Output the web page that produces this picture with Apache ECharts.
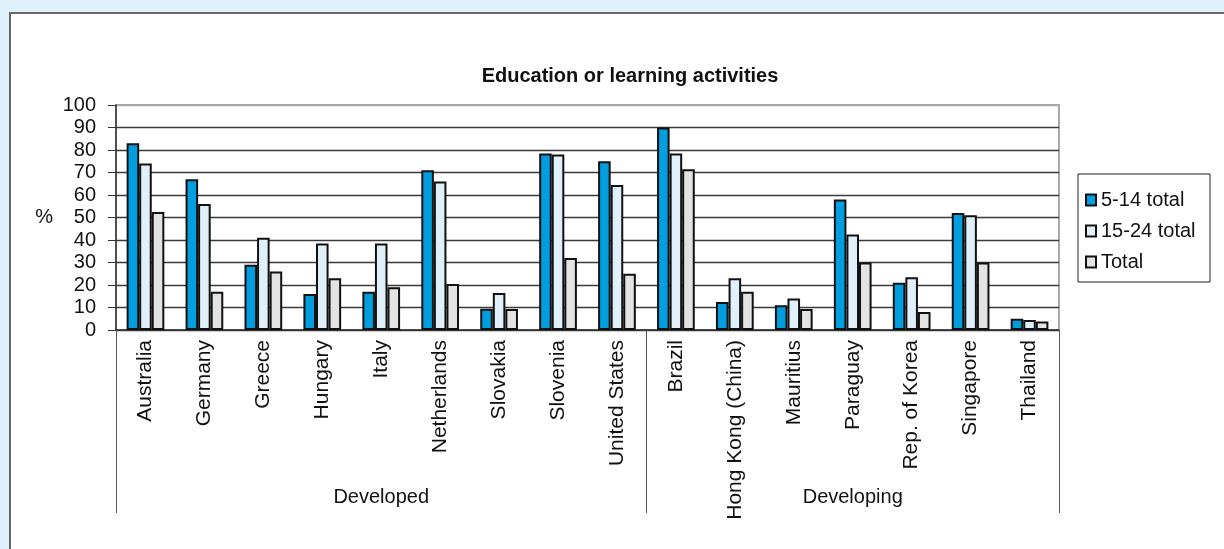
<!DOCTYPE html>
<html>
<head>
<meta charset="utf-8">
<title>Education or learning activities</title>
<script src="https://cdn.jsdelivr.net/npm/echarts@6/dist/echarts.min.js"></script>
<style>
  html, body { margin: 0; padding: 0; background: #dff0fa; }
  .panel {
    position: absolute; left: 9px; top: 12px; width: 1215px; height: 537px;
    background: #fff; border-top: 2px solid #666; border-left: 2px solid #666;
    box-sizing: border-box;
  }
  .chart { position: absolute; left: 0; top: 0; width: 1224px; height: 549px; }
</style>
</head>
<body>
<div class="panel"></div>
<div class="chart" id="chart"></div>
<script>
// 国家 / 分组
const countries = ['Australia', 'Germany', 'Greece', 'Hungary', 'Italy', 'Netherlands', 'Slovakia', 'Slovenia', 'United States',
  'Brazil', 'Hong Kong (China)', 'Mauritius', 'Paraguay', 'Rep. of Korea', 'Singapore', 'Thailand'];
const groupNames = ['Developed', 'Developing'];
const groupSizes = [9, 7];

// 数值 (%)
const age5to14 = [83, 67, 29, 16, 17, 71, 9.5, 78.5, 75, 90, 12.5, 11, 58, 21, 52, 5];
const age15to24 = [74, 56, 41, 38.5, 38.5, 66, 16.5, 78, 64.5, 78.5, 23, 14, 42.5, 23.5, 51, 4.5];
const totalAll = [52.5, 17, 26, 23, 19, 20.5, 9.3, 32, 25, 71.5, 17, 9.3, 30, 8, 30, 3.8];

const yTicks = [0, 10, 20, 30, 40, 50, 60, 70, 80, 90, 100];

// 分组边界与标签位置
let groupBounds = [0];
groupSizes.forEach((n, i) => groupBounds.push(groupBounds[i] + n));
let groupMids = groupSizes.map((n, i) => groupBounds[i] + n / 2);

const font = 'Liberation Sans, Arial, sans-serif';
const barBorder = { borderColor: '#111', borderWidth: 2 };

let chart = echarts.init(document.getElementById('chart'));

// 最上面一条(100)是浅灰色，与边框一致
let gridColors = yTicks.map((t, i) => (i === yTicks.length - 1 ? '#a8a8a8' : '#3a3a3a'));

let option = {
  backgroundColor: 'transparent',
  animation: false,
  textStyle: { fontFamily: font, color: '#111' },
  title: {
    text: 'Education or learning activities',
    left: 625,
    top: 61,
    textAlign: 'center',
    textStyle: { fontFamily: font, fontSize: 20, fontWeight: 'bold', color: '#111' }
  },
  legend: {
    orient: 'vertical',
    left: 1078,
    top: 174,
    padding: [16, 5, 10, 7],
    itemGap: 11,
    itemWidth: 10,
    itemHeight: 11,
    icon: 'rect',
    borderColor: '#222',
    borderWidth: 1,
    textStyle: { fontFamily: font, fontSize: 20, color: '#111', lineHeight: 20, width: 104 }
  },
  grid: {
    left: 116,
    right: 165,
    top: 105,
    bottom: 219,
    show: true,
    borderColor: '#a8a8a8',
    borderWidth: 2,
    backgroundColor: 'transparent'
  },
  xAxis: [
    {
      type: 'category',
      data: countries,
      axisLine: { lineStyle: { color: '#333', width: 1.5 } },
      axisTick: { show: false },
      axisLabel: { rotate: 90, margin: 10, fontSize: 21, fontFamily: font, color: '#111', interval: 0 }
    },
    {
      type: 'value',
      position: 'bottom',
      min: 0,
      max: countries.length,
      axisLine: { show: false },
      splitLine: { show: false },
      axisTick: { show: true, length: 183, customValues: groupBounds, lineStyle: { color: '#555', width: 1 } },
      axisLabel: {
        customValues: groupMids,
        margin: 157,
        fontSize: 20,
        fontFamily: font,
        color: '#111',
        formatter: (v) => groupNames[groupMids.indexOf(v)] || ''
      }
    }
  ],
  yAxis: {
    type: 'value',
    min: 0,
    max: 100,
    interval: 10,
    name: '%',
    nameLocation: 'middle',
    nameRotate: 0,
    nameGap: 63,
    nameTextStyle: { fontFamily: font, fontSize: 20, color: '#111' },
    axisLine: { show: true, lineStyle: { color: '#333', width: 1.5 } },
    axisTick: { show: true, length: 8, lineStyle: { color: '#333' } },
    axisLabel: { margin: 20, fontSize: 20, fontFamily: font, color: '#111' },
    splitLine: { show: true, lineStyle: { color: gridColors, width: 1.3 } }
  },
  series: [
    { name: '5-14 total', type: 'bar', data: age5to14, barGap: '0%', barCategoryGap: '36%',
      itemStyle: Object.assign({ color: '#009ddf' }, barBorder) },
    { name: '15-24 total', type: 'bar', data: age15to24, barGap: '0%', barCategoryGap: '36%',
      itemStyle: Object.assign({ color: '#dff0fb' }, barBorder) },
    { name: 'Total', type: 'bar', data: totalAll, barGap: '0%', barCategoryGap: '36%',
      itemStyle: Object.assign({ color: '#e3e3e3' }, barBorder) }
  ]
};

chart.setOption(option);
window.addEventListener('resize', function () {
  chart && chart.resize();
});
</script>
</body>
</html>
